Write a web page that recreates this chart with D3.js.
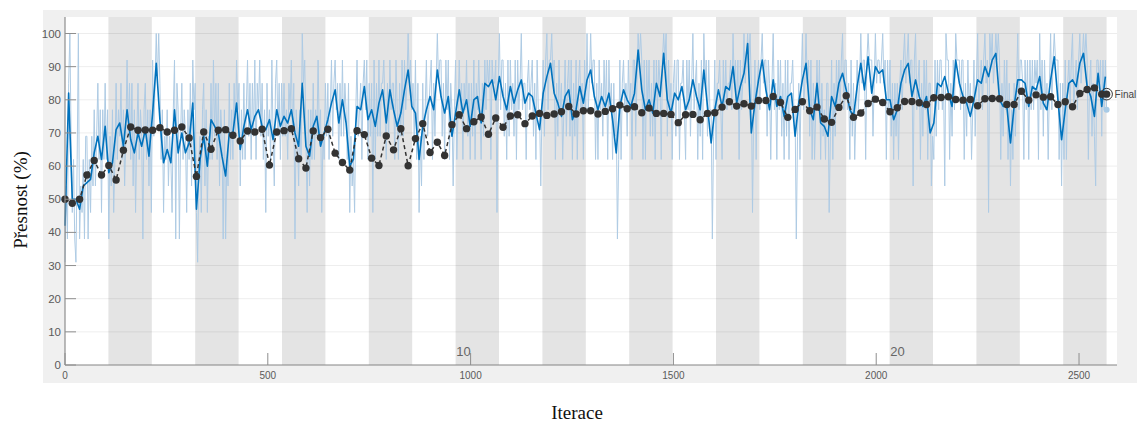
<!DOCTYPE html>
<html>
<head>
<meta charset="utf-8">
<script src="https://cdn.jsdelivr.net/npm/d3@7"></script>
<style>
  body { margin: 0; background: #fff; }
  svg { display: block; }
</style>
</head>
<body>
<svg id="chart" width="1137" height="425"></svg>
<script>
// Training progress: mini-batch accuracy (raw + smoothed) and validation accuracy per iteration
const itersPerEpoch = 107;
const numEpochs = 24;
const rawStep = 3;       // iterations between stored raw samples
const smoothStep = 9;    // iterations between stored smoothed samples
const valStep = 18;      // validation frequency (iterations)
const totalIterations = 2568;

const yTicks = [0, 10, 20, 30, 40, 50, 60, 70, 80, 90, 100];
const xTicks = [0, 500, 1000, 1500, 2000, 2500];
const epochLabels = [10, 20];

// Mini-batch accuracy (%), one value every 3 iterations
const rawAccuracy = [
  31,54,38, 85,100,69, 46,62,38, 31,62,100, 38,54,46, 62,38,69,
  69,38,62, 46,69,54, 77,54,69, 85,62,77, 46,77,62, 85,62,77,
  38,69,54, 77,46,62, 85,62,77, 69,85,62, 77,54,69, 92,69,85,
  62,85,54, 77,46,69, 85,62,77, 69,38,77, 85,62,77, 54,77,46,
  92,69,85, 100,85,100, 85,62,77, 46,69,62, 77,54,69, 62,46,77,
  92,38,85, 77,38,69, 85,62,77, 69,46,77, 62,85,54, 92,77,85,
  46,31,62, 69,46,77, 85,54,77, 46,69,62, 85,62,92, 69,85,62,
  85,54,77, 69,38,77, 38,62,54, 85,62,77, 62,85,69, 92,77,85,
  54,77,62, 85,62,77, 92,69,85, 62,85,69, 92,62,85, 77,92,69,
  85,62,77, 46,85,69, 77,62,92, 69,54,85, 92,69,85, 62,85,69,
  85,69,77, 62,85,77, 92,69,85, 38,77,69, 54,77,62, 100,85,92,
  69,46,77, 54,77,62, 85,62,77, 69,92,69, 77,46,69, 62,85,69,
  85,62,77, 92,69,85, 92,77,85, 62,85,69, 92,69,85, 77,62,85,
  46,69,54, 62,46,77, 92,69,77, 85,62,85, 92,77,92, 62,85,69,
  85,46,92, 62,85,69, 92,69,85, 85,92,77, 62,85,69, 92,77,85,
  85,62,92, 77,62,85, 69,92,69, 92,77,85, 100,85,92, 77,85,69,
  92,62,85, 46,69,54, 85,62,77, 92,69,77, 85,92,62, 85,69,85,
  100,85,92, 92,69,85, 62,92,77, 92,62,85, 77,54,77, 92,62,77,
  92,77,85, 62,85,77, 92,69,85, 62,85,69, 92,62,85, 77,92,77,
  62,85,69, 92,77,92, 85,92,62, 92,85,85, 92,46,85, 100,77,92,
  92,69,85, 62,92,69, 92,77,85, 69,92,62, 92,77,85, 100,77,85,
  85,62,85, 92,77,85, 92,69,85, 62,92,77, 77,54,77, 92,69,92,
  100,77,92, 92,100,85, 92,62,85, 69,92,77, 85,62,77, 92,69,85,
  92,69,92, 62,85,69, 92,62,85, 92,77,85, 62,92,77, 100,77,85,
  100,85,92, 92,62,85, 62,92,77, 85,69,92, 77,92,62, 92,77,85,
  62,85,69, 77,38,62, 92,62,85, 92,77,85, 69,92,77, 85,62,92,
  92,69,85, 100,92,100, 92,62,92, 62,92,77, 92,69,85, 69,92,62,
  92,77,92, 85,62,92, 100,92,100, 69,92,77, 85,62,85, 92,69,92,
  92,62,85, 85,92,77, 62,92,77, 92,69,85, 100,77,85, 92,62,85,
  69,92,62, 100,85,92, 69,92,77, 77,38,69, 92,62,85, 85,92,77,
  62,92,77, 92,77,85, 85,92,77, 100,85,92, 77,92,62, 92,77,85,
  100,85,92, 100,92,100, 85,46,77, 92,62,85, 92,77,92, 100,85,92,
  92,69,92, 85,62,85, 100,77,85, 62,92,77, 92,69,85, 62,92,69,
  92,62,85, 85,92,77, 77,38,69, 85,62,85, 100,77,85, 100,85,92,
  69,92,62, 85,62,77, 92,77,92, 62,85,69, 77,62,85, 85,46,69,
  92,62,85, 69,92,77, 92,77,92, 100,77,92, 92,77,85, 62,92,69,
  85,62,77, 92,77,85, 100,85,92, 92,62,92, 100,92,92, 92,69,85,
  100,85,92, 92,85,92, 100,85,92, 62,92,77, 92,69,85, 62,85,69,
  85,62,85, 92,77,92, 100,85,92, 100,85,92, 92,54,92, 100,77,85,
  92,62,85, 69,92,77, 92,62,85, 85,54,69, 62,92,69, 92,77,92,
  92,77,85, 54,100,92, 92,62,85, 69,92,77, 100,92,92, 92,77,92,
  92,62,85, 69,92,77, 85,62,77, 92,69,85, 100,77,85, 92,77,92,
  100,85,92, 46,100,92, 100,85,92, 100,92,100, 92,62,85, 69,92,77,
  92,62,85, 54,77,62, 85,69,85, 100,77,92, 92,85,62, 92,77,92,
  62,92,77, 92,77,92, 85,92,62, 100,77,92, 69,92,77, 85,62,85,
  100,77,92, 100,92,92, 92,62,85, 54,85,62, 92,62,85, 92,77,92,
  100,77,85, 92,77,92, 100,85,92, 100,92,100, 92,62,85, 92,69,85,
  69,54,92, 92,85,92, 69,92,77, 92,77
];

// Smoothed mini-batch accuracy (%), one value every 9 iterations
const smoothedAccuracy = [
  42,82,50,50,47,54,55,56,64,69,
  62,72,58,61,71,73,66,77,68,64,
  70,66,71,63,76,91,74,61,65,61,
  77,64,70,64,67,79,47,62,69,60,
  74,72,70,63,57,70,70,79,65,72,
  77,71,75,77,72,71,74,68,77,72,
  75,73,77,70,66,85,66,63,72,75,
  66,70,74,79,83,73,80,73,60,62,
  78,77,84,74,77,72,79,83,73,83,
  77,72,76,83,89,78,
  76,62,72,77,81,77,89,81,76,81,
  69,76,83,76,80,72,80,81,73,85,
  84,86,80,87,81,77,84,79,83,86,
  79,82,81,76,71,82,87,91,82,79,
  75,81,83,74,77,84,79,86,89,81,
  77,81,78,82,74,64,78,83,80,78,
  82,95,83,77,80,76,85,81,94,80,
  76,82,80,84,77,80,86,81,77,89,
  78,67,77,83,78,84,83,90,79,84,
  88,97,70,79,86,92,
  83,77,86,78,81,75,81,82,69,79,
  86,91,77,74,85,73,72,69,81,78,
  85,88,83,77,75,84,91,83,93,82,
  90,88,89,80,80,74,77,85,89,91,
  81,86,81,78,81,70,73,85,84,87,
  82,78,92,85,81,79,75,80,86,85,
  90,87,92,94,80,78,78,67,78,86,
  86,85,78,84,83,87,79,77,86,93,
  80,68,77,85,86,84,91,94,84,81,
  75,88,78,87
];

// Validation accuracy (%), every 18 iterations
const validationAccuracy = [
  50.0, 48.8, 50.0, 57.3, 61.7, 57.3, 60.2, 55.8, 64.8, 71.8,
  70.8, 70.9, 70.8, 71.6, 70.3, 70.8, 71.8, 68.5, 56.9, 70.3,
  65.1, 70.8, 71.0, 69.3, 67.6, 70.6, 70.3, 71.1, 60.3, 70.3,
  70.7, 71.3, 62.2, 59.4, 70.6, 68.6, 71.1, 63.9, 61.1, 58.8,
  70.7, 69.5, 62.4, 60.2, 69.1, 64.9, 71.3, 60.1, 68.3, 72.8,
  64.1, 67.2, 63.2, 72.5, 75.5, 71.3, 73.4, 74.8, 69.6, 74.5,
  71.7, 75.1, 75.5, 72.8, 75.1, 75.9, 75.3, 75.7, 76.4, 78.0,
  75.7, 76.7, 76.7, 75.7, 76.5, 77.3, 78.4, 77.3, 77.9, 76.1,
  77.5, 75.9, 75.9, 75.6, 73.1, 75.5, 75.6, 74.0, 75.9, 76.1,
  77.8, 79.4, 78.1, 78.8, 78.1, 79.8, 79.8, 81.0, 79.2, 74.7,
  77.1, 79.4, 76.7, 77.8, 74.2, 73.2, 77.7, 81.2, 74.7, 76.0,
  78.9, 80.2, 79.2, 76.4, 77.6, 79.5, 79.5, 79.1, 78.6, 80.6,
  80.7, 80.9, 80.1, 79.9, 80.1, 78.2, 80.3, 80.4, 80.3, 78.6,
  78.6, 82.6, 79.9, 81.5, 80.8, 80.9, 78.6, 79.4, 77.9, 81.9,
  83.1, 83.6, 81.7
];
const finalValidation = 81.7;
const finalTraining = 77;

// ---------- layout ----------
const svg = d3.select("#chart");
const panel = { left: 43, top: 10, right: 1137, bottom: 383 };
const plot = { left: 65, top: 17, right: 1117, bottom: 365 };

const x = d3.scaleLinear().domain([0, totalIterations]).range([plot.left, 1106.6]);
const y = d3.scaleLinear().domain([0, 100]).range([plot.bottom, 33.5]);

const axisColor = "#8e8e8e";
const textColor = "#5a5a5a";

// outer axes panel and white plotting area
svg.append("rect")
  .attr("x", panel.left).attr("y", panel.top)
  .attr("width", panel.right - panel.left).attr("height", panel.bottom - panel.top)
  .attr("fill", "#f0f0f0");
svg.append("rect")
  .attr("x", plot.left).attr("y", plot.top)
  .attr("width", plot.right - plot.left).attr("height", plot.bottom - plot.top)
  .attr("fill", "#ffffff");

// alternating epoch shading (even epochs shaded)
const epochs = d3.range(1, numEpochs + 1);
svg.append("g").selectAll("rect")
  .data(epochs.filter(e => e % 2 === 0))
  .join("rect")
  .attr("x", e => x((e - 1) * itersPerEpoch))
  .attr("width", e => x(e * itersPerEpoch) - x((e - 1) * itersPerEpoch))
  .attr("y", plot.top)
  .attr("height", plot.bottom - plot.top)
  .attr("fill", "#e4e4e4");

// horizontal grid
svg.append("g").selectAll("line")
  .data(yTicks)
  .join("line")
  .attr("x1", plot.left).attr("x2", plot.right)
  .attr("y1", d => y(d)).attr("y2", d => y(d))
  .attr("stroke", "#000").attr("stroke-opacity", 0.07).attr("stroke-width", 1);

// epoch numbers
svg.append("g").selectAll("text")
  .data(epochLabels)
  .join("text")
  .attr("x", e => x((e - 1) * itersPerEpoch) + 8)
  .attr("y", 356)
  .attr("text-anchor", "middle")
  .attr("font-family", "Liberation Sans, Arial, sans-serif")
  .attr("font-size", 13)
  .attr("fill", "#666")
  .text(e => e);

// raw mini-batch accuracy
const rawLine = d3.line()
  .x((d, i) => x(i * rawStep))
  .y(d => y(d));
svg.append("path")
  .datum(rawAccuracy)
  .attr("d", rawLine)
  .attr("fill", "none")
  .attr("stroke", "#aecbe4")
  .attr("stroke-width", 1)
  .attr("stroke-linejoin", "round");

// smoothed accuracy
const smoothLine = d3.line()
  .x((d, i) => x(i * smoothStep))
  .y(d => y(d));
svg.append("path")
  .datum(smoothedAccuracy)
  .attr("d", smoothLine)
  .attr("fill", "none")
  .attr("stroke", "#0072bd")
  .attr("stroke-width", 1.6)
  .attr("stroke-linejoin", "round");

// validation accuracy
const valPoints = validationAccuracy.map((v, i) => ({ it: i * valStep, v }));
valPoints.push({ it: totalIterations, v: finalValidation });
svg.append("path")
  .datum(valPoints)
  .attr("d", d3.line().x(d => x(d.it)).y(d => y(d.v)))
  .attr("fill", "none")
  .attr("stroke", "#333")
  .attr("stroke-width", 1.5)
  .attr("stroke-dasharray", "4,3");
svg.append("g").selectAll("circle")
  .data(valPoints)
  .join("circle")
  .attr("cx", d => x(d.it))
  .attr("cy", d => y(d.v))
  .attr("r", 3.7)
  .attr("fill", "#333");

// final markers
svg.append("circle")
  .attr("cx", x(totalIterations)).attr("cy", y(finalTraining))
  .attr("r", 3).attr("fill", "#a9cbe6");
svg.append("circle")
  .attr("cx", x(totalIterations)).attr("cy", y(finalValidation))
  .attr("r", 5.8).attr("fill", "none").attr("stroke", "#333").attr("stroke-width", 1);
svg.append("text")
  .attr("x", x(totalIterations) + 8).attr("y", y(finalValidation) + 3.5)
  .attr("font-family", "Liberation Sans, Arial, sans-serif")
  .attr("font-size", 10)
  .attr("fill", "#444")
  .text("Final");

// axes lines
svg.append("line")
  .attr("x1", plot.left).attr("x2", plot.left)
  .attr("y1", plot.top).attr("y2", plot.bottom)
  .attr("stroke", axisColor).attr("stroke-width", 1.2);
svg.append("line")
  .attr("x1", plot.left).attr("x2", plot.right)
  .attr("y1", plot.bottom).attr("y2", plot.bottom)
  .attr("stroke", axisColor).attr("stroke-width", 1.2);

// y ticks and labels
const gy = svg.append("g");
gy.selectAll("line")
  .data(yTicks)
  .join("line")
  .attr("x1", plot.left).attr("x2", plot.left + 11)
  .attr("y1", d => y(d)).attr("y2", d => y(d))
  .attr("stroke", axisColor).attr("stroke-width", 1);
gy.selectAll("text")
  .data(yTicks)
  .join("text")
  .attr("x", plot.left - 4)
  .attr("y", d => y(d) + 4)
  .attr("text-anchor", "end")
  .attr("font-family", "Liberation Sans, Arial, sans-serif")
  .attr("font-size", 11.5)
  .attr("fill", textColor)
  .text(d => d);

// x ticks and labels
const gx = svg.append("g");
gx.selectAll("line")
  .data(xTicks)
  .join("line")
  .attr("x1", d => x(d)).attr("x2", d => x(d))
  .attr("y1", plot.bottom).attr("y2", plot.bottom - 12)
  .attr("stroke", axisColor).attr("stroke-width", 1);
gx.selectAll("text")
  .data(xTicks)
  .join("text")
  .attr("x", d => x(d))
  .attr("y", 379)
  .attr("text-anchor", "middle")
  .attr("font-family", "Liberation Sans, Arial, sans-serif")
  .attr("font-size", 10)
  .attr("fill", textColor)
  .text(d => d);

// axis titles
svg.append("text")
  .attr("transform", "translate(27,200) rotate(-90)")
  .attr("text-anchor", "middle")
  .attr("font-family", "Liberation Serif, Times New Roman, serif")
  .attr("font-size", 19)
  .attr("fill", "#111")
  .text("Přesnost (%)");
svg.append("text")
  .attr("x", 577).attr("y", 419)
  .attr("text-anchor", "middle")
  .attr("font-family", "Liberation Serif, Times New Roman, serif")
  .attr("font-size", 19)
  .attr("fill", "#111")
  .text("Iterace");
</script>
</body>
</html>
